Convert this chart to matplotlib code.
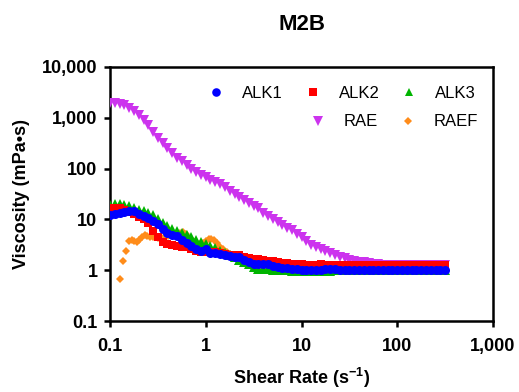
import matplotlib
matplotlib.use("Agg")
import matplotlib.pyplot as plt
from matplotlib.ticker import FixedLocator, FuncFormatter, NullLocator
import numpy as np

plt.rcParams['font.family'] = ['Liberation Sans', 'DejaVu Sans']
plt.rcParams['mathtext.default'] = 'regular'

# shear rate (1/s), shared by the ALK and RAE runs
shear_rate = [0.1, 0.112, 0.126, 0.141, 0.158, 0.178, 0.2, 0.224, 0.251, 0.282,
              0.316, 0.355, 0.398, 0.447, 0.501, 0.562, 0.631, 0.708, 0.794, 0.891,
              1.0, 1.12, 1.26, 1.41, 1.58, 1.78, 2.0, 2.24, 2.51, 2.82,
              3.16, 3.55, 3.98, 4.47, 5.01, 5.62, 6.31, 7.08, 7.94, 8.91,
              10, 11.2, 12.6, 14.1, 15.8, 17.8, 20, 22.4, 25.1, 28.2,
              31.6, 35.5, 39.8, 44.7, 50.1, 56.2, 63.1, 70.8, 79.4, 89.1,
              100, 112, 126, 141, 158, 178, 200, 224, 251, 282, 316]

alk1 = [12, 13, 13.5, 14, 14.5, 14.8, 13, 11.5, 10.5, 9.5,
        8, 6.5, 5.5, 5, 4.8, 4, 3.4, 3, 2.6, 2.4,
        2.6, 2.2, 2.2, 2.1, 2.0, 1.9, 1.8, 1.85, 1.6, 1.45,
        1.35, 1.3, 1.35, 1.3, 1.2, 1.15, 1.12, 1.1, 1.08, 1.05,
        1.03, 1.0, 1.0, 1.0, 1.0, 1.04, 1.06, 1.05, 1.03, 1.02,
        1.03, 1.02, 1.03, 1.02, 1.02, 1.03, 1.02, 1.02, 1.02, 1.02,
        1.02, 1.02, 1.02, 1.02, 1.02, 1.02, 1.02, 1.02, 1.02, 1.02, 1.02]

alk2 = [17, 17, 16.5, 15.5, 14, 12.5, 11, 10, 8.5, 6,
        4.5, 3.6, 3.3, 3.2, 3.0, 2.9, 2.8, 2.6, 2.4, 2.3,
        2.3, 2.3, 2.25, 2.2, 2.1, 2.0, 2.0, 1.95, 1.8, 1.7,
        1.65, 1.65, 1.6, 1.55, 1.5, 1.45, 1.4, 1.38, 1.35, 1.32,
        1.3, 1.28, 1.28, 1.27, 1.3, 1.28, 1.27, 1.26, 1.27, 1.26,
        1.25, 1.25, 1.26, 1.25, 1.25, 1.25, 1.25, 1.25, 1.25, 1.25,
        1.25, 1.25, 1.25, 1.25, 1.25, 1.25, 1.25, 1.25, 1.25, 1.25, 1.25]

alk3 = [19, 20, 20, 19, 18, 16.5, 15, 14.5, 13.5, 12,
        10, 8.5, 7.5, 6.5, 6, 5.5, 5, 4.5, 4, 3.6,
        3.3, 3.0, 2.7, 2.4, 2.2, 2.0, 1.8, 1.6, 1.45, 1.3,
        1.15, 1.08, 1.05, 1.05, 1.03, 1.02, 1.0, 1.0, 0.98, 0.97,
        0.96, 0.96, 0.97, 0.97, 0.98, 0.98, 0.98, 0.99, 0.99, 0.99,
        0.99, 0.99, 0.99, 0.99, 0.99, 0.99, 0.99, 0.99, 0.99, 0.99,
        0.99, 0.99, 0.99, 0.99, 0.99, 0.99, 0.99, 0.99, 0.99, 0.99, 0.99]

rae = [2000, 1950, 1880, 1750, 1580, 1350, 1130, 900, 720, 530,
       400, 320, 255, 200, 165, 138, 117, 100, 87, 76,
       67, 60, 54, 49, 44, 36, 31, 27, 24, 21,
       18.5, 16.5, 13.5, 11.5, 10, 8.7, 7.7, 6.9, 6.1, 5.2,
       4.5, 3.8, 3.2, 2.9, 2.6, 2.35, 2.15, 2.0, 1.85, 1.72,
       1.62, 1.55, 1.48, 1.43, 1.38, 1.34, 1.31, 1.29, 1.27, 1.26,
       1.25, 1.25, 1.25, 1.25, 1.25, 1.25, 1.25, 1.25, 1.25, 1.25, 1.25]

# RAEF has its own (denser, shorter) run
raef_rate = [0.127, 0.138, 0.148, 0.158, 0.17, 0.18, 0.19, 0.2, 0.215, 0.23,
             0.245, 0.26, 0.28, 0.3, 0.32, 0.34, 0.37, 0.4, 0.43, 0.46,
             0.5, 0.54, 0.58, 0.62, 0.66, 0.71, 0.76, 0.82, 0.88, 0.94,
             1.0, 1.07, 1.14, 1.22, 1.3, 1.4, 1.5, 1.65, 1.8, 2.0,
             2.2, 2.5, 2.8, 3.2, 3.6, 4.0, 4.5, 5.0]
raef = [0.68, 1.5, 2.4, 3.8, 4.0, 3.7, 3.6, 4.0, 4.6, 5.0,
        4.8, 4.6, 4.6, 4.5, 4.3, 4.2, 4.5, 4.7, 4.9, 5.0,
        5.2, 5.5, 5.6, 5.2, 4.6, 4.0, 3.6, 3.4, 3.3, 3.5,
        3.8, 4.1, 4.2, 3.9, 3.4, 2.9, 2.6, 2.3, 2.1, 1.9,
        1.75, 1.5, 1.35, 1.2, 1.12, 1.08, 1.05, 1.04]

y_ticks = [0.1, 1, 10, 100, 1000, 10000]
x_ticks = [0.1, 1, 10, 100, 1000]

fig = plt.figure(figsize=(5.19, 3.92), dpi=100)
ax = fig.add_axes([110/519, 1-321/392, (493-110)/519, (321-67)/392])

ax.plot(raef_rate, raef, 'D', color='#FF8C1A', ms=4.2, mew=0, label='RAEF', zorder=2)
ax.plot(shear_rate, rae, 'v', color='#CC33EE', ms=7, mew=0, label='RAE', zorder=3)
ax.plot(shear_rate, alk3, '^', color='#00B400', ms=6.8, mew=0, label='ALK3', zorder=4)
ax.plot(shear_rate, alk2, 's', color='#FF0000', ms=6.2, mew=0, label='ALK2', zorder=5)
ax.plot(shear_rate, alk1, 'o', color='#0000FF', ms=6.5, mew=0, label='ALK1', zorder=6)

ax.set_xscale('log')
ax.set_yscale('log')
ax.set_xlim(0.1, 1000)
ax.set_ylim(0.1, 10000)
ax.xaxis.set_major_locator(FixedLocator(x_ticks))
ax.yaxis.set_major_locator(FixedLocator(y_ticks))
ax.xaxis.set_minor_locator(NullLocator())
ax.yaxis.set_minor_locator(NullLocator())
fmt = FuncFormatter(lambda v, _: f'{v:,.0f}' if v >= 1 else f'{v:g}')
ax.xaxis.set_major_formatter(fmt)
ax.yaxis.set_major_formatter(fmt)

for s in ax.spines.values():
    s.set_linewidth(1.8)
ax.tick_params(length=4, width=1.8, labelsize=13, pad=5)
ax.tick_params(axis='x', pad=8)
for lab in ax.get_xticklabels() + ax.get_yticklabels():
    lab.set_fontweight('bold')

# legend: two rows, drawn as two legends so each row aligns on the right
h = {l.get_label(): l for l in ax.get_lines()}
kw = dict(frameon=False, fontsize=12, handlelength=1.0, handletextpad=1.05,
          columnspacing=1.3, borderpad=0, borderaxespad=0, loc='center right',
          bbox_transform=fig.transFigure, markerscale=0.95)
leg1 = ax.legend([h['ALK1'], h['ALK2'], h['ALK3']], ['ALK1', 'ALK2', 'ALK3'],
                 ncol=3, bbox_to_anchor=(476/519, 1-93/392), **kw)
ax.add_artist(leg1)
ax.legend([h['RAE'], h['RAEF']], ['RAE', 'RAEF'],
          ncol=2, bbox_to_anchor=(478/519, 1-122/392), **kw)

fig.text(301.5/519, 1-25/392, 'M2B', ha='center', va='center',
         fontsize=16, fontweight='bold')
fig.text(22/519, 1-194/392, 'Viscosity (mPa\u2022s)', rotation=90,
         ha='center', va='center', fontsize=13, fontweight='bold')
fig.text(301.5/519, 2/392, 'Shear Rate (s$^{-1}$)', ha='center',
         va='bottom', fontsize=13, fontweight='bold')

fig.savefig('out.png', dpi=100)
